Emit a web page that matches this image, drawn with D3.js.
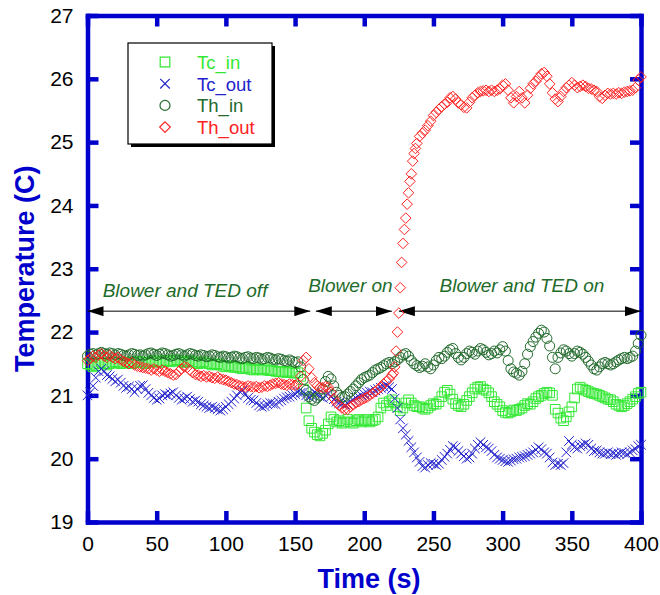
<!DOCTYPE html>
<html>
<head>
<meta charset="utf-8">
<script src="https://cdn.jsdelivr.net/npm/d3@7"></script>
<style>
  html, body { margin: 0; padding: 0; background: #fff; }
  svg { display: block; font-family: "Liberation Sans", Arial, sans-serif; }
  .axis path, .axis line { stroke: #0000cc; stroke-width: 4.5; }
  .axis text { fill: #000; font-size: 21px; font-family: "Liberation Sans", Arial, sans-serif; }
</style>
</head>
<body>
<svg id="chart" width="660" height="595"></svg>
<script>
// sampling step of the logger (s)
const step = 2;

// t = 0, 2, 4 ... 400 s
const tcIn = [
  21.50, 21.48, 21.45, 21.47, 21.50, 21.52, 21.50, 21.48, 21.50, 21.52,
  21.53, 21.52, 21.50, 21.51, 21.53, 21.52, 21.50, 21.52, 21.54, 21.53,
  21.52, 21.50, 21.52, 21.54, 21.55, 21.53, 21.52, 21.54, 21.55, 21.54,
  21.53, 21.55, 21.56, 21.55, 21.53, 21.52, 21.54, 21.55, 21.53, 21.52,
  21.50, 21.52, 21.53, 21.51, 21.50, 21.48, 21.49, 21.50, 21.48, 21.46,
  21.45, 21.47, 21.46, 21.44, 21.45, 21.43, 21.42, 21.44, 21.43, 21.41,
  21.40, 21.42, 21.41, 21.40, 21.42, 21.40, 21.39, 21.40, 21.38, 21.37,
  21.38, 21.37, 21.36, 21.38, 21.36, 21.35, 21.36, 21.30, 21.10, 20.80,
  20.60, 20.48, 20.42, 20.38, 20.36, 20.40, 20.45, 20.55, 20.66, 20.62,
  20.58, 20.60, 20.56, 20.58, 20.62, 20.58, 20.56, 20.60, 20.62, 20.58,
  20.60, 20.62, 20.58, 20.60, 20.62, 20.66, 20.80, 20.88, 20.84, 20.90,
  20.93, 20.88, 20.82, 20.76, 20.80, 20.88, 20.93, 20.88, 20.84, 20.82,
  20.82, 20.80, 20.78, 20.80, 20.84, 20.87, 20.86, 20.90, 20.98, 21.05,
  21.08, 21.02, 20.94, 20.87, 20.84, 20.82, 20.86, 20.92, 20.98, 21.04,
  21.10, 21.13, 21.14, 21.10, 21.08, 21.04, 20.98, 20.90, 20.86, 20.82,
  20.76, 20.73, 20.72, 20.74, 20.77, 20.76, 20.78, 20.80, 20.84, 20.87,
  20.86, 20.90, 20.95, 20.98, 21.00, 21.03, 21.05, 21.04, 21.00, 20.78,
  20.72, 20.64, 20.60, 20.66, 20.74, 20.82, 20.96, 21.10, 21.13, 21.10,
  21.08, 21.06, 21.04, 21.03, 21.02, 21.00, 20.98, 20.96, 20.94, 20.93,
  20.90, 20.86, 20.84, 20.82, 20.84, 20.87, 20.90, 20.94, 20.98, 21.03,
  21.05
];

const tcOut = [
  21.00, 21.05, 21.15, 21.28, 21.38, 21.42, 21.38, 21.32, 21.30, 21.26,
  21.22, 21.25, 21.20, 21.15, 21.12, 21.14, 21.10, 21.05, 21.10, 21.15,
  21.16, 21.10, 21.04, 21.00, 20.96, 20.93, 20.95, 21.00, 21.02, 21.00,
  21.03, 21.05, 21.00, 20.96, 20.93, 20.95, 20.98, 20.94, 20.90, 20.92,
  20.90, 20.86, 20.84, 20.82, 20.80, 20.82, 20.80, 20.78, 20.76, 20.78,
  20.82, 20.86, 20.90, 20.95, 21.00, 21.06, 21.08, 21.02, 20.96, 20.93,
  20.92, 20.88, 20.84, 20.82, 20.83, 20.86, 20.88, 20.87, 20.86, 20.90,
  20.92, 20.95, 20.97, 20.98, 21.00, 21.02, 21.05, 21.04, 21.05, 21.00,
  20.98, 21.00, 21.05, 21.02, 20.98, 20.96, 21.00, 21.02, 20.98, 20.94,
  20.90, 20.88, 20.86, 20.85, 20.87, 20.90, 20.93, 20.96, 20.98, 21.00,
  21.02, 21.04, 21.06, 21.05, 21.08, 21.10, 21.12, 21.14, 21.16, 21.13,
  21.10, 20.95, 20.80, 20.62, 20.48, 20.38, 20.28, 20.18, 20.10, 20.02,
  19.95, 19.88, 19.86, 19.90, 19.93, 19.92, 19.90, 19.92, 19.98, 20.03,
  20.08, 20.14, 20.20, 20.18, 20.12, 20.08, 20.04, 20.00, 20.02, 20.08,
  20.16, 20.22, 20.26, 20.22, 20.18, 20.16, 20.12, 20.06, 20.02, 20.00,
  19.98, 19.96, 19.95, 19.97, 19.99, 20.00, 20.02, 20.03, 20.04, 20.06,
  20.08, 20.10, 20.14, 20.18, 20.15, 20.10, 20.08, 20.02, 19.94, 19.90,
  19.92, 19.90, 19.93, 20.10, 20.28, 20.22, 20.18, 20.16, 20.20, 20.22,
  20.24, 20.22, 20.16, 20.12, 20.13, 20.10, 20.08, 20.08, 20.10, 20.07,
  20.08, 20.06, 20.08, 20.10, 20.09, 20.07, 20.10, 20.13, 20.15, 20.20,
  20.22
];

const thIn = [
  21.62, 21.65, 21.66, 21.64, 21.66, 21.68, 21.66, 21.65, 21.67, 21.66,
  21.64, 21.66, 21.65, 21.63, 21.62, 21.64, 21.66, 21.65, 21.63, 21.64,
  21.62, 21.64, 21.66, 21.67, 21.65, 21.63, 21.65, 21.67, 21.66, 21.64,
  21.62, 21.63, 21.65, 21.66, 21.64, 21.62, 21.64, 21.66, 21.65, 21.63,
  21.62, 21.64, 21.63, 21.61, 21.62, 21.64, 21.63, 21.61, 21.60, 21.62,
  21.61, 21.59, 21.60, 21.62, 21.61, 21.59, 21.58, 21.60, 21.61, 21.59,
  21.58, 21.60, 21.59, 21.57, 21.58, 21.60, 21.59, 21.57, 21.56, 21.58,
  21.57, 21.55, 21.54, 21.56, 21.54, 21.52, 21.53, 21.45, 21.25, 21.08,
  20.98, 20.94, 20.92, 20.96, 21.00, 21.10, 21.22, 21.30, 21.26, 21.15,
  21.05, 21.00, 20.97, 20.98, 21.02, 21.06, 21.10, 21.15, 21.20, 21.25,
  21.28, 21.30, 21.32, 21.36, 21.40, 21.42, 21.44, 21.47, 21.50, 21.52,
  21.50, 21.53, 21.56, 21.60, 21.64, 21.66, 21.62, 21.55, 21.50, 21.47,
  21.44, 21.46, 21.50, 21.45, 21.42, 21.48, 21.55, 21.60, 21.58, 21.62,
  21.68, 21.72, 21.74, 21.66, 21.60, 21.56, 21.60, 21.66, 21.70, 21.68,
  21.65, 21.70, 21.74, 21.72, 21.68, 21.64, 21.66, 21.70, 21.67, 21.72,
  21.77, 21.70, 21.55, 21.42, 21.37, 21.35, 21.32, 21.38, 21.50, 21.65,
  21.77, 21.85, 21.92, 21.98, 22.03, 22.00, 21.90, 21.78, 21.60, 21.42,
  21.60, 21.67, 21.72, 21.70, 21.66, 21.62, 21.66, 21.70, 21.68, 21.65,
  21.60, 21.54, 21.48, 21.42, 21.40, 21.45, 21.50, 21.52, 21.50, 21.48,
  21.50, 21.53, 21.56, 21.58, 21.60, 21.58, 21.60, 21.62, 21.70, 21.82,
  21.95
];

const thOut = [
  21.55, 21.58, 21.62, 21.60, 21.64, 21.66, 21.62, 21.60, 21.63, 21.60,
  21.58, 21.60, 21.56, 21.54, 21.52, 21.50, 21.52, 21.48, 21.46, 21.45,
  21.44, 21.43, 21.42, 21.40, 21.42, 21.40, 21.38, 21.40, 21.38, 21.36,
  21.34, 21.32, 21.33, 21.38, 21.42, 21.45, 21.44, 21.40, 21.36, 21.33,
  21.32, 21.30, 21.31, 21.29, 21.30, 21.28, 21.27, 21.29, 21.26, 21.25,
  21.24, 21.22, 21.20, 21.18, 21.17, 21.15, 21.14, 21.13, 21.15, 21.14,
  21.13, 21.14, 21.12, 21.13, 21.15, 21.14, 21.16, 21.18, 21.19, 21.20,
  21.18, 21.17, 21.16, 21.18, 21.17, 21.16, 21.18, 21.30, 21.55, 21.60,
  21.42, 21.28, 21.20, 21.15, 21.13, 21.12, 21.14, 21.13, 21.05, 20.95,
  20.88, 20.84, 20.80, 20.78, 20.78, 20.82, 20.85, 20.88, 20.90, 20.93,
  20.95, 20.97, 21.00, 21.03, 21.06, 21.10, 21.13, 21.18, 21.22, 21.26,
  21.32, 21.45, 22.00, 22.70, 23.40, 23.80, 24.20, 24.50, 24.82, 24.98,
  25.09, 25.14, 25.19, 25.26, 25.33, 25.42, 25.47, 25.52, 25.56, 25.60,
  25.63, 25.70, 25.72, 25.68, 25.62, 25.59, 25.55, 25.54, 25.63, 25.70,
  25.74, 25.78, 25.80, 25.81, 25.82, 25.80, 25.82, 25.80, 25.82, 25.84,
  25.90, 25.92, 25.82, 25.70, 25.62, 25.72, 25.80, 25.70, 25.62, 25.74,
  25.85, 25.92, 25.96, 26.02, 26.08, 26.10, 26.04, 25.92, 25.78, 25.68,
  25.64, 25.72, 25.80, 25.86, 25.90, 25.94, 25.90, 25.86, 25.88, 25.90,
  25.88, 25.85, 25.84, 25.82, 25.80, 25.72, 25.69, 25.74, 25.77, 25.76,
  25.77, 25.76, 25.78, 25.77, 25.79, 25.80, 25.81, 25.82, 25.86, 25.98,
  26.03
];

// extra Th_out readings at the odd seconds of the jump (t = 221 ... 237 s)
const thOutJumpTimes = [221, 223, 225, 227, 229, 231, 233, 235, 237];
const thOutJump = [21.35, 21.70, 22.30, 23.10, 23.62, 24.02, 24.38, 24.70, 24.90];

const seriesNames = ['Tc_in', 'Tc_out', 'Th_in', 'Th_out'];
const seriesValues = [tcIn, tcOut, thIn, thOut];
const seriesColors = ['#33e833', '#2222cc', '#226b2c', '#ff2222'];
const seriesShapes = ['square', 'cross', 'circle', 'diamond'];

const xTicks = [0, 50, 100, 150, 200, 250, 300, 350, 400];
const yTicks = [19, 20, 21, 22, 23, 24, 25, 26, 27];

// phases: [start, end, label, label centre] in seconds
const phases = [
  [0, 161, 'Blower and TED off', 70.5],
  [165, 220, 'Blower on', 190],
  [225, 400, 'Blower and TED on', 314]
];
const phaseLevel = 22.33;

const svg = d3.select('#chart');
const x = d3.scaleLinear().domain([0, 400]).range([87.5, 641]);
const y = d3.scaleLinear().domain([19, 27]).range([522, 15.5]);

function markerPath(shape) {
  if (shape === 'square') return 'M-4.8,-4.8h9.6v9.6h-9.6z';
  if (shape === 'cross') return 'M-4.8,-4.8L4.8,4.8M4.8,-4.8L-4.8,4.8';
  if (shape === 'circle') return 'M5,0A5,5 0 1,1 -5,0A5,5 0 1,1 5,0Z';
  return 'M0,-5.3L5.3,0L0,5.3L-5.3,0Z';
}

// frame with inward ticks on all four sides
svg.append('g').attr('class', 'axis')
  .attr('transform', `translate(0,${y(19)})`)
  .call(d3.axisBottom(x).tickValues(xTicks).tickSizeInner(-11).tickSizeOuter(0).tickPadding(22))
  .call((g) => g.selectAll('text').attr('dy', '0.32em'));
svg.append('g').attr('class', 'axis')
  .attr('transform', `translate(0,${y(27)})`)
  .call(d3.axisTop(x).tickValues(xTicks).tickSizeInner(-11).tickSizeOuter(0).tickFormat(''));
svg.append('g').attr('class', 'axis')
  .attr('transform', `translate(${x(0)},0)`)
  .call(d3.axisLeft(y).tickValues(yTicks).tickSizeInner(-11).tickSizeOuter(0).tickPadding(14));
svg.append('g').attr('class', 'axis')
  .attr('transform', `translate(${x(400)},0)`)
  .call(d3.axisRight(y).tickValues(yTicks).tickSizeInner(-11).tickSizeOuter(0).tickFormat(''));
svg.selectAll('.axis path').attr('stroke-linecap', 'square');

// phase arrows
const defs = svg.append('defs');
defs.append('marker').attr('id', 'head')
  .attr('viewBox', '0 0 16 10').attr('refX', 16).attr('refY', 5)
  .attr('markerWidth', 16).attr('markerHeight', 10)
  .attr('markerUnits', 'userSpaceOnUse').attr('orient', 'auto-start-reverse')
  .append('path').attr('d', 'M0,0L16,5L0,10Z').attr('fill', '#000');

phases.forEach(([a, b, label, mid], i) => {
  svg.append('line')
    .attr('x1', x(a)).attr('x2', x(b))
    .attr('y1', y(phaseLevel)).attr('y2', y(phaseLevel))
    .attr('stroke', '#000').attr('stroke-width', 1)
    .attr('marker-start', 'url(#head)').attr('marker-end', 'url(#head)');
  svg.append('text')
    .attr('x', x(mid))
    .attr('y', y(phaseLevel) - (i === 0 ? 14 : 19))
    .attr('text-anchor', 'middle')
    .attr('font-size', 19).attr('font-style', 'italic')
    .attr('fill', '#1e6b2a')
    .text(label);
});

// data markers
function drawMarkers(points, i) {
  svg.append('g')
    .selectAll('path')
    .data(points)
    .join('path')
    .attr('transform', (d) => `translate(${x(d[0])},${y(d[1])})`)
    .attr('d', markerPath(seriesShapes[i]))
    .attr('fill', 'none')
    .attr('stroke', seriesColors[i])
    .attr('stroke-width', 1);
}
seriesValues.forEach((vals, i) => {
  const pts = vals.map((v, j) => [j * step, v]);
  if (i === 3) thOutJumpTimes.forEach((t, k) => pts.push([t, thOutJump[k]]));
  drawMarkers(pts, i);
});

// legend
const lg = svg.append('g');
lg.append('rect').attr('x', 131).attr('y', 46).attr('width', 144).attr('height', 101).attr('fill', '#000');
lg.append('rect').attr('x', 128).attr('y', 43).attr('width', 144).attr('height', 101)
  .attr('fill', '#fff').attr('stroke', '#000').attr('stroke-width', 1.2);
seriesNames.forEach((name, i) => {
  const cy = 62 + i * 21.7;
  lg.append('path')
    .attr('transform', `translate(165,${cy})`)
    .attr('d', markerPath(seriesShapes[i]))
    .attr('fill', 'none').attr('stroke', seriesColors[i]).attr('stroke-width', 1.2);
  lg.append('text')
    .attr('x', 197).attr('y', cy + 7)
    .attr('font-size', 18.5).attr('fill', seriesColors[i])
    .text(name);
});

// axis titles
svg.append('text')
  .attr('x', 369).attr('y', 588)
  .attr('text-anchor', 'middle').attr('font-size', 27).attr('font-weight', 'bold')
  .attr('fill', '#0000cc').text('Time (s)');
svg.append('text')
  .attr('transform', `translate(34,${(y(19) + y(27)) / 2}) rotate(-90)`)
  .attr('text-anchor', 'middle').attr('font-size', 27).attr('font-weight', 'bold')
  .attr('fill', '#0000cc').text('Temperature (C)');
</script>
</body>
</html>
